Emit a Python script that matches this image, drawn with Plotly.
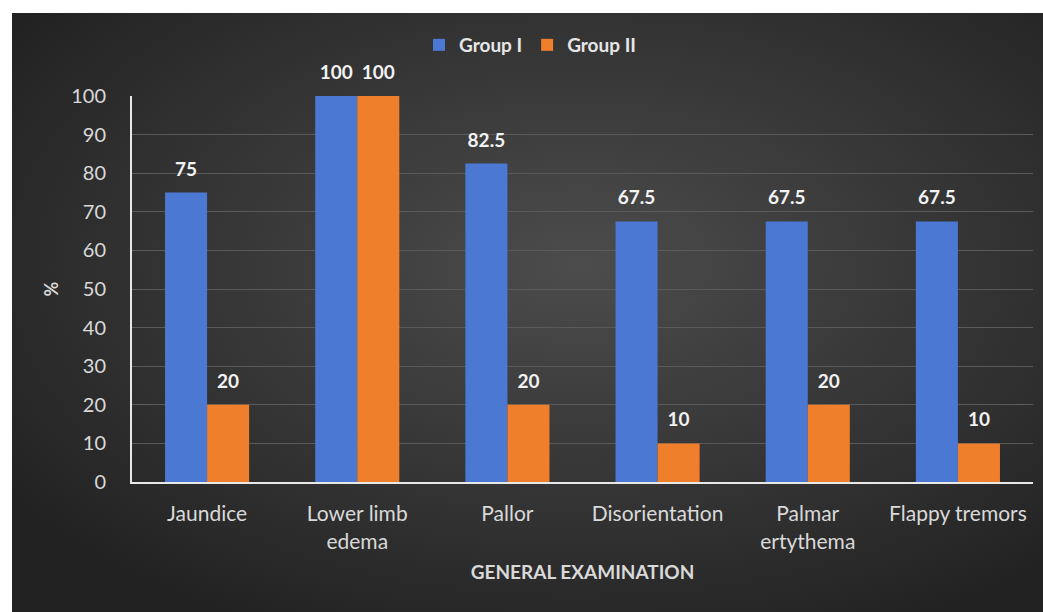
import base64
import plotly.graph_objects as go

categories = ["Jaundice", "Lower limb<br>edema", "Pallor", "Disorientation", "Palmar<br>ertythema", "Flappy tremors"]
group1 = [75, 100, 82.5, 67.5, 67.5, 67.5]
group2 = [20, 100, 20, 10, 20, 10]
y_ticks = [0, 10, 20, 30, 40, 50, 60, 70, 80, 90, 100]

W, H = 1043, 612
ML, MR, MT, MB = 132, 10, 96, 130
PW, PH = W - ML - MR, H - MT - MB

def px2x(px):
    return (px - ML) / PW

def py2y(py):
    return (H - MB - py) / PH

svg = """<svg xmlns='http://www.w3.org/2000/svg' width='1031' height='599' preserveAspectRatio='none'>
<defs><radialGradient id='g' cx='55%' cy='42%' r='68%'>
<stop offset='0%' stop-color='#4c4c4c'/><stop offset='100%' stop-color='#222222'/>
</radialGradient></defs>
<rect width='1031' height='599' fill='url(#g)'/></svg>"""
src = "data:image/svg+xml;base64," + base64.b64encode(svg.encode()).decode()

font = "Lato, Carlito, 'Open Sans', sans-serif"
label_font = dict(color="#f2f2f2", size=19, family=font)

fig = go.Figure()
fig.add_trace(go.Bar(
    name="<b>Group I</b>", x=categories, y=group1, offsetgroup="g1",
    marker=dict(color="#4a78d2", line=dict(width=0)),
))
fig.add_trace(go.Bar(
    name="<b>Group II</b>", x=categories, y=group2, offsetgroup="g2",
    marker=dict(color="#f07f2c", line=dict(width=0)),
))
for vals, og in ((group1, "g1"), (group2, "g2")):
    fig.add_trace(go.Scatter(
        x=categories, y=vals, mode="markers+text", offsetgroup=og,
        text=[f"<b>{v:g}</b>" for v in vals], textposition="top center",
        textfont=label_font, marker=dict(size=18, opacity=0),
        showlegend=False, hoverinfo="skip", cliponaxis=False,
    ))

fig.update_layout(
    width=W, height=H,
    margin=dict(l=ML, r=MR, t=MT, b=MB, pad=0),
    paper_bgcolor="white", plot_bgcolor="rgba(0,0,0,0)",
    barmode="group", bargap=0.44, bargroupgap=0,
    scattermode="group", scattergap=0.44,
    font=dict(family=font, color="#d9d9d9", size=20),
    legend=dict(orientation="h", x=px2x(530), xanchor="center", y=py2y(45), yanchor="middle",
                font=dict(size=19, color="#e6e6e6", family=font), bgcolor="rgba(0,0,0,0)",
                itemwidth=30, traceorder="normal"),
    images=[dict(source=src, xref="paper", yref="paper", x=px2x(12), y=py2y(13),
                 sizex=px2x(1043) - px2x(12), sizey=py2y(13) - py2y(612),
                 xanchor="left", yanchor="top", sizing="stretch", layer="below")],
)
fig.update_xaxes(
    showline=True, linecolor="#e8e8e8", linewidth=2, showgrid=False,
    ticks="", ticklabelstandoff=12, tickfont=dict(size=21, color="#d9d9d9"),
    title=dict(text="<b>GENERAL EXAMINATION</b>", font=dict(size=19, color="#d9d9d9"), standoff=14),
)
fig.update_yaxes(
    range=[0, 100], tickvals=y_ticks, showline=True, linecolor="#e8e8e8", linewidth=2,
    showgrid=True, gridcolor="#5a5a5a", gridwidth=1, zeroline=False,
    ticks="", ticklabelstandoff=20, tickfont=dict(size=20, color="#d9d9d9"),
    title=dict(text="<b>%</b>", font=dict(size=18, color="#d9d9d9"), standoff=8),
)

fig.write_html("out.html")
